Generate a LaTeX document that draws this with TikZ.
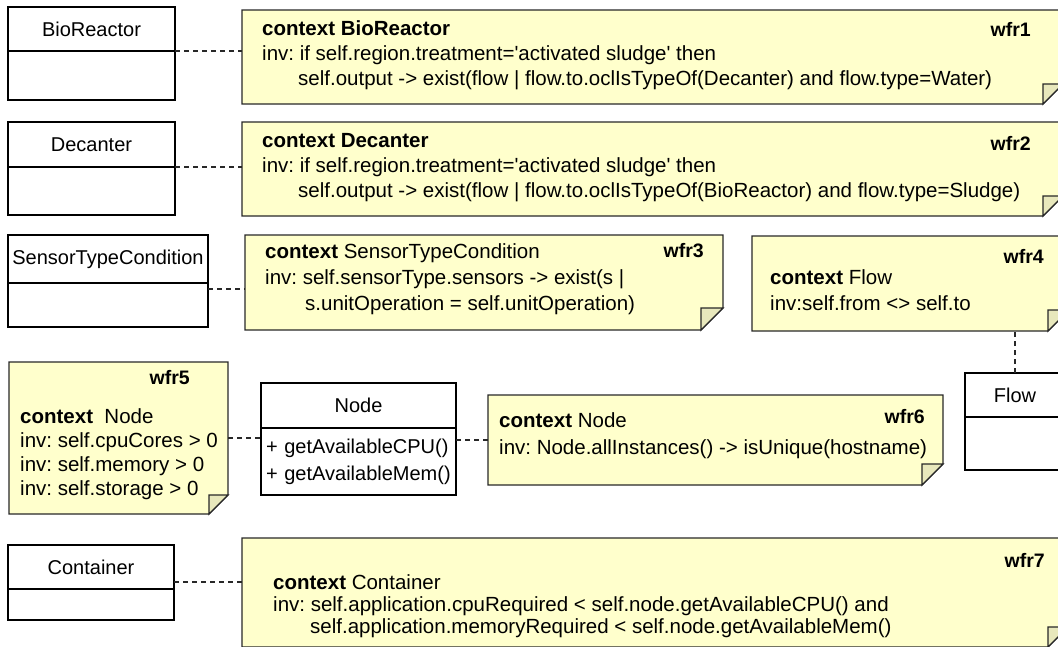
\documentclass[tikz,border=0pt]{standalone}
\usepackage{fontspec}
\setmainfont{Liberation Sans}
\usetikzlibrary{backgrounds}
\frenchspacing

\definecolor{notefill}{RGB}{255,255,204}
\definecolor{foldfill}{RGB}{232,232,188}
\definecolor{noteline}{RGB}{40,40,40}

\newcommand{\classfont}{\fontsize{20}{24}\selectfont}
\newcommand{\notefont}{\fontsize{20.5}{24}\selectfont}
\newcommand{\labelfont}{\fontsize{19.5}{24}\selectfont\bfseries}
\newcommand{\q}{\textquotesingle}

% note outline with folded corner, #1 = node, #2 = fold size
\newcommand{\drawnote}[2]{%
    \filldraw[fill=notefill, draw=noteline, line width=1.3pt]
        (#1.north west) -- (#1.north east) -- ([yshift=#2]#1.south east)
        -- ([xshift=-#2]#1.south east) -- (#1.south west) -- cycle;
    \filldraw[fill=foldfill, draw=noteline, line width=1.3pt]
        ([xshift=-#2]#1.south east) -- ([xshift=-#2,yshift=#2]#1.south east)
        -- ([yshift=#2]#1.south east) -- cycle;
}

\begin{document}
\begin{tikzpicture}[x=1pt, y=-1pt,
    classhead/.style={draw=black, line width=1.3pt, inner sep=0pt, outer sep=0pt,
        anchor=north west, font=\classfont},
    classbody/.style={draw=black, line width=1.3pt, inner sep=0pt, outer sep=0pt,
        anchor=north, font=\classfont},
    note/.style={inner sep=0pt, outer sep=0pt, anchor=north west},
    notetext/.style={inner sep=0pt, anchor=west, align=left, font=\notefont},
    notelabel/.style={inner sep=0pt, anchor=base east, font=\labelfont},
    link/.style={draw=noteline, line width=1.2pt, dash pattern=on 5pt off 4pt}
]
    \useasboundingbox (0,0) rectangle (1058,646);
    \clip (0,0) rectangle (1058,646);

    % classes
    \node[classhead, minimum width=167, minimum height=44] (bio) at (8,7) {BioReactor};
    \node[classbody, minimum width=167, minimum height=49] (biobody) at (bio.south) {};
    \node[classhead, minimum width=167, minimum height=45] (dec) at (8,122) {Decanter};
    \node[classbody, minimum width=167, minimum height=48] (decbody) at (dec.south) {};
    \node[classhead, minimum width=200, minimum height=48] (stc) at (8,235) {SensorTypeCondition};
    \node[classbody, minimum width=200, minimum height=44] (stcbody) at (stc.south) {};
    \node[classhead, minimum width=195, minimum height=45] (nodehead) at (261,383) {Node};
    \node[classbody, minimum width=195, minimum height=67, text width=185, align=left]
        (nodebody) at (nodehead.south) {+ getAvailableCPU()\\[3pt]+ getAvailableMem()};
    \node[classhead, minimum width=166, minimum height=44] (cont) at (8,545) {Container};
    \node[classbody, minimum width=166, minimum height=31] (contbody) at (cont.south) {};
    \node[classhead, minimum width=100, minimum height=44] (flow) at (965,373) {Flow};
    \node[classbody, minimum width=100, minimum height=53] (flowbody) at (flow.south) {};

    % notes
    \node[note, minimum width=821, minimum height=94] (w1) at (242,10) {};
    \node[note, minimum width=821, minimum height=94] (w2) at (242,122) {};
    \node[note, minimum width=478, minimum height=95] (w3) at (245,235) {};
    \node[note, minimum width=317, minimum height=95] (w4) at (752,236) {};
    \node[note, minimum width=219, minimum height=152] (w5) at (9,362) {};
    \node[note, minimum width=455, minimum height=90] (w6) at (488,395) {};
    \node[note, minimum width=826, minimum height=109] (w7) at (242,538) {};

    \begin{scope}[on background layer]
        \clip (0,0) rectangle (1058,646);
        \drawnote{w1}{20}
        \drawnote{w2}{20}
        \drawnote{w3}{22}
        \drawnote{w4}{21}
        \drawnote{w5}{19}
        \drawnote{w6}{21}
        \drawnote{w7}{20}
    \end{scope}

    \node[notetext] (t1) at (262,55) {\textbf{context BioReactor}\\[1pt]
        inv: if self.region.treatment=\q activated sludge\q{} then\\[1pt]
        \hspace*{36pt}self.output -> exist(flow | flow.to.oclIsTypeOf(Decanter) and flow.type=Water)};
    \node[notelabel] (l1) at (1031,36) {wfr1};
    \node[notetext] (t2) at (262,168) {\textbf{context Decanter}\\[1pt]
        inv: if self.region.treatment=\q activated sludge\q{} then\\[1pt]
        \hspace*{36pt}self.output -> exist(flow | flow.to.oclIsTypeOf(BioReactor) and flow.type=Sludge)};
    \node[notelabel] (l2) at (1031,150) {wfr2};
    \node[notetext] (t3) at (265,279) {\textbf{context} SensorTypeCondition\\[2pt]
        inv: self.sensorType.sensors -> exist(s |\\[2pt]
        \hspace*{40pt}s.unitOperation = self.unitOperation)};
    \node[notelabel] (l3) at (704,257) {wfr3};
    \node[notetext] (t4) at (770,290) {\textbf{context} Flow\\[2pt]
        inv:self.from <> self.to};
    \node[notelabel] (l4) at (1044,263) {wfr4};
    \node[notetext] (t5) at (20,454) {\textbf{context}\ \ Node\\
        inv: self.cpuCores > 0\\
        inv: self.memory > 0\\
        inv: self.storage > 0};
    \node[notelabel] (l5) at (190,384) {wfr5};
    \node[notetext] (t6) at (499,436) {\textbf{context} Node\\[3pt]
        inv: Node.allInstances() -> isUnique(hostname)};
    \node[notelabel] (l6) at (925,423) {wfr6};
    \node[notetext] (t7) at (273,606) {\textbf{context} Container\\[-2pt]
        inv: self.application.cpuRequired < self.node.getAvailableCPU() and\\[-2pt]
        \hspace*{37pt}self.application.memoryRequired < self.node.getAvailableMem()};
    \node[notelabel] (l7) at (1045,567) {wfr7};

    % connectors
    \coordinate (stcport) at ([yshift=-6]stc.south east);
    \coordinate (contport) at ([yshift=7]cont.south east);
    \draw[link] (bio.south east) -- (bio.south east -| w1.west);
    \draw[link] (dec.south east) -- (dec.south east -| w2.west);
    \draw[link] (stcport) -- (stcport -| w3.west);
    \draw[link] (w5.east) -- (w5.east -| nodehead.west);
    \draw[link] (w6.west) -- (w6.west -| nodebody.east);
    \draw[link] (flow.north) -- (flow.north |- w4.south);
    \draw[link] (contport) -- (contport -| w7.west);
\end{tikzpicture}
\end{document}
